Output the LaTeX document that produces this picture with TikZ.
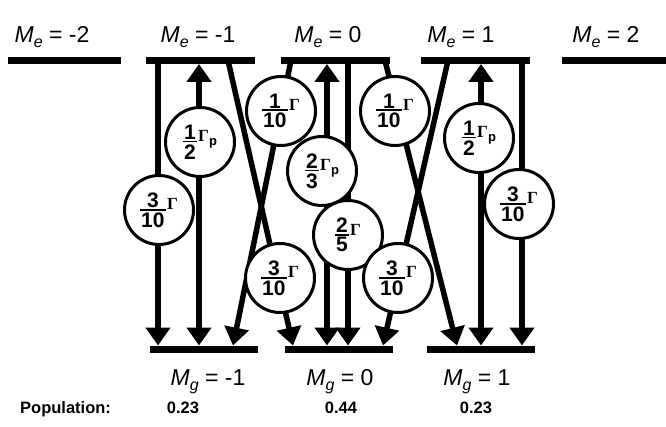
\documentclass[tikz,border=0pt]{standalone}
\usepackage{fontspec}
\setmainfont{Liberation Sans}
\newfontfamily\gamfont{Liberation Serif}
\usetikzlibrary{arrows.meta}

\newcommand{\frbox}[2]{%
  \begingroup\bfseries
  \setbox0=\hbox{#1}\setbox2=\hbox{#2}%
  \dimen0=\wd0 \ifdim\wd2>\dimen0 \dimen0=\wd2\fi
  \advance\dimen0 by 2pt
  \vtop{\hbox to\dimen0{\hss\box0\hss}\kern1.2pt\hrule height1.8pt\kern2pt\hbox to\dimen0{\hss\box2\hss}}%
  \endgroup}
\newcommand{\gG}{\raisebox{-2.5pt}{\gamfont\bfseries\fontsize{17}{17}\selectfont Γ}}
\newcommand{\gGp}{\raisebox{-2.5pt}{\gamfont\bfseries\fontsize{17}{17}\selectfont Γ}\raisebox{-6pt}{\fontsize{13}{13}\selectfont\bfseries p}}
\newcommand{\ratetxt}[3]{\fontsize{21}{21}\selectfont\frbox{#1}{#2}\kern1.5pt#3}
\newcommand{\lvltxt}[2]{{\itshape M}\raisebox{-5pt}{\fontsize{16}{16}\selectfont\itshape #1} = #2}

\tikzset{
  level/.style={fill=black, inner sep=0pt, minimum height=7pt},
  lab/.style={font=\fontsize{23}{23}\selectfont, inner sep=0pt, anchor=base},
  pop/.style={font=\fontsize{16.5}{16.5}\selectfont\bfseries, inner sep=0pt, anchor=base},
  rate/.style={circle, draw, line width=3pt, fill=white, minimum size=69pt, inner sep=0pt},
  tr/.style={line width=5.5pt},
  dn/.style={tr, -{Triangle[width=24pt,length=18pt]}},
  both/.style={tr, {Triangle[width=24pt,length=18pt]}-{Triangle[width=24pt,length=18pt]}},
}

\begin{document}
\begin{tikzpicture}[x=1pt,y=-1pt]
\useasboundingbox (0,0) rectangle (666,427);
\fill[white] (0,0) rectangle (666,427);

% level labels
\node[lab] (lem2) at (52,43) {\lvltxt{e}{-2}};
\node[lab] (lem1) at (198,43) {\lvltxt{e}{-1}};
\node[lab] (le0) at (328,43) {\lvltxt{e}{0}};
\node[lab] (lep1) at (461,43) {\lvltxt{e}{1}};
\node[lab] (lep2) at (606,43) {\lvltxt{e}{2}};
\node[lab] (lgm1) at (208,385) {\lvltxt{g}{-1}};
\node[lab] (lg0) at (340,385) {\lvltxt{g}{0}};
\node[lab] (lgp1) at (477,385) {\lvltxt{g}{1}};

% population
\node[pop, anchor=base west] (poplab) at (20,413) {Population:};
\node[pop] (pop1) at (183,413) {0.23};
\node[pop] (pop2) at (341,413) {0.44};
\node[pop] (pop3) at (476,413) {0.23};

% levels
\node[level, minimum width=113pt] (em2) at (64.5,60.5) {};
\node[level, minimum width=109pt] (em1) at (200.5,60.5) {};
\node[level, minimum width=109pt] (e0) at (335.5,60.5) {};
\node[level, minimum width=109pt] (ep1) at (475.5,60.5) {};
\node[level, minimum width=104pt] (ep2) at (614,60.5) {};
\node[level, minimum width=108pt] (gm1) at (204,349) {};
\node[level, minimum width=108pt] (g0) at (339,349) {};
\node[level, minimum width=108pt] (gp1) at (481,349) {};

% connector ends
\coordinate (a1) at (158,60.5);  \coordinate (a2) at (158,345.5);
\coordinate (b1) at (199,64);    \coordinate (b2) at (199,345.5);
\coordinate (c1) at (228,60.5);  \coordinate (c2) at (293,345.5);
\coordinate (d1) at (291,60.5);  \coordinate (d2) at (233,345.5);
\coordinate (e1) at (327,64);    \coordinate (e2) at (327,345.5);
\coordinate (f1) at (348,60.5);  \coordinate (f2) at (348,345.5);
\coordinate (g1) at (385,60.5);  \coordinate (g2) at (457,345.5);
\coordinate (h1) at (448,60.5);  \coordinate (h2) at (383,345.5);
\coordinate (i1) at (481,64);    \coordinate (i2) at (481,345.5);
\coordinate (j1) at (522,60.5);  \coordinate (j2) at (522,345.5);

% transitions
\draw[dn] (a1) -- (a2);
\draw[both] (b1) -- (b2);
\draw[dn] (c1) -- (c2);
\draw[dn] (d1) -- (d2);
\draw[both] (e1) -- (e2);
\draw[dn] (f1) -- (f2);
\draw[dn] (g1) -- (g2);
\draw[dn] (h1) -- (h2);
\draw[both] (i1) -- (i2);
\draw[dn] (j1) -- (j2);

% rate circles
\node[rate] (r1) at (159,210) {\ratetxt{3}{10}{\gG}};
\node[rate] (r2) at (200,142) {\ratetxt{1}{2}{\gGp}};
\node[rate] (r3) at (281,111) {\ratetxt{1}{10}{\gG}};
\node[rate] (r4) at (322,171) {\ratetxt{2}{3}{\gGp}};
\node[rate] (r5) at (348,235) {\ratetxt{2}{5}{\gG}};
\node[rate] (r6) at (395,111) {\ratetxt{1}{10}{\gG}};
\node[rate] (r7) at (280,278) {\ratetxt{3}{10}{\gG}};
\node[rate] (r8) at (398,278) {\ratetxt{3}{10}{\gG}};
\node[rate] (r9) at (479,138) {\ratetxt{1}{2}{\gGp}};
\node[rate] (r10) at (519,204) {\ratetxt{3}{10}{\gG}};
\end{tikzpicture}
\end{document}
